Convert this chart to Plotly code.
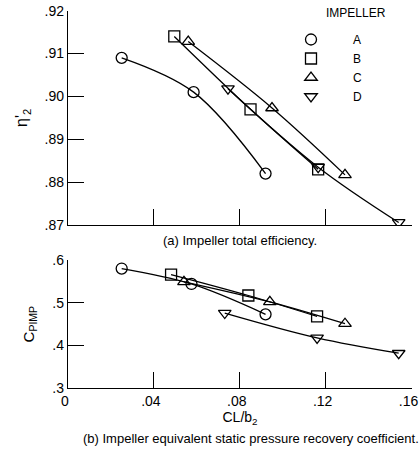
import plotly.graph_objects as go

# ---- data ----
impellers = ["A", "B", "C", "D"]
symbols = ["circle-open", "square-open", "triangle-up-open", "triangle-down-open"]

eff_x = {
    "A": [0.025, 0.0585, 0.092],
    "B": [0.0495, 0.085, 0.1165],
    "C": [0.056, 0.095, 0.129],
    "D": [0.0745, 0.1165, 0.154],
}
eff_y = {
    "A": [0.909, 0.901, 0.882],
    "B": [0.914, 0.897, 0.883],
    "C": [0.9128, 0.8973, 0.8817],
    "D": [0.9018, 0.8835, 0.8706],
}
cp_x = {
    "A": [0.025, 0.0575, 0.092],
    "B": [0.048, 0.084, 0.116],
    "C": [0.054, 0.094, 0.129],
    "D": [0.073, 0.116, 0.154],
}
cp_y = {
    "A": [0.58, 0.544, 0.473],
    "B": [0.566, 0.517, 0.468],
    "C": [0.549, 0.502, 0.451],
    "D": [0.476, 0.418, 0.382],
}

x_ticks = [0, 0.04, 0.08, 0.12, 0.16]
x_ticktext = ["0", ".04", ".08", ".12", ".16"]
eff_ticks = [0.87, 0.88, 0.89, 0.90, 0.91, 0.92]
eff_ticktext = [".87", ".88", ".89", ".90", ".91", ".92"]
cp_ticks = [0.3, 0.4, 0.5, 0.6]
cp_ticktext = [".3", ".4", ".5", ".6"]

FONT = "Liberation Sans"
W, H = 419, 455


def px(xp, yp):
    return xp / W, 1 - yp / H


fig = go.Figure()

mk = lambda sym: dict(symbol=sym, size=11, color="black", line=dict(width=1.3, color="black"))
ln = dict(color="black", width=1.3, shape="spline", smoothing=1.0)

for name, sym in zip(impellers, symbols):
    fig.add_trace(go.Scatter(x=eff_x[name], y=eff_y[name], mode="lines+markers", line=ln,
                             marker=mk(sym), xaxis="x", yaxis="y", showlegend=False, name=name))
    fig.add_trace(go.Scatter(x=cp_x[name], y=cp_y[name], mode="lines+markers", line=ln,
                             marker=mk(sym), xaxis="x2", yaxis="y2", showlegend=False, name=name))
    fig.add_trace(go.Scatter(x=[None], y=[None], mode="markers", marker=mk(sym),
                             xaxis="x", yaxis="y", showlegend=True, name=name))

axis_common = dict(
    showgrid=False, zeroline=False, showline=True, linecolor="black", linewidth=1.3,
    ticks="inside", ticklen=16, tickwidth=1.3, tickcolor="black",
    tickfont=dict(family=FONT, size=14, color="black"),
)

x0, _ = px(68, 0)
x1, _ = px(412, 0)
_, ya1 = px(0, 10.7)
_, ya0 = px(0, 225)
_, yb1 = px(0, 260)
_, yb0 = px(0, 388.3)

fig.update_layout(
    width=W, height=H,
    margin=dict(l=0, r=0, t=0, b=0, autoexpand=False),
    paper_bgcolor="white", plot_bgcolor="white",
    font=dict(family=FONT, size=14, color="black"),
    xaxis=dict(domain=[x0, x1], range=[0, 0.1602], tickvals=x_ticks,
               ticktext=x_ticktext, showticklabels=False, anchor="y", **axis_common),
    yaxis=dict(domain=[ya0, ya1], range=[0.87, 0.92], tickvals=eff_ticks,
               ticktext=eff_ticktext, anchor="x",
               title=dict(text="η'<sub>2</sub>", standoff=12, font=dict(family=FONT, size=16)),
               **axis_common),
    xaxis2=dict(domain=[x0, x1], range=[0, 0.1602], tickvals=x_ticks,
                ticktext=x_ticktext, anchor="y2", ticklabelshift=-3,
                ticklabeloverflow="allow",
                title=dict(text="CL/b<sub>2</sub>", standoff=2, font=dict(family=FONT, size=14)),
                **axis_common),
    yaxis2=dict(domain=[yb0, yb1], range=[0.3, 0.6], tickvals=cp_ticks,
                ticktext=cp_ticktext, anchor="x2",
                title=dict(text="C<sub>P</sub><sub>IMP</sub>", standoff=14, font=dict(family=FONT, size=15)),
                **axis_common),
    legend=dict(
        x=px(269, 0)[0], y=px(0, 25)[1], xanchor="left", yanchor="top",
        font=dict(family=FONT, size=12, color="black"),
        itemwidth=74, tracegroupgap=0, bgcolor="rgba(0,0,0,0)",
    ),
)

ann = []
x_, y_ = px(356, 13)
ann.append(dict(text="IMPELLER", x=x_, y=y_, xref="paper", yref="paper",
                xanchor="center", yanchor="middle",
                showarrow=False, font=dict(family=FONT, size=12, color="black")))
x_, y_ = px(240, 240)
ann.append(dict(text="(a) Impeller total efficiency.", x=x_, y=y_, xref="paper", yref="paper",
                xanchor="center", yanchor="middle",
                showarrow=False, font=dict(family=FONT, size=13, color="black")))
x_, y_ = px(251, 438)
ann.append(dict(text="(b) Impeller equivalent static pressure recovery coefficient.", x=x_, y=y_,
                xref="paper", yref="paper", showarrow=False,
                xanchor="center", yanchor="middle",
                font=dict(family=FONT, size=13, color="black")))
fig.update_layout(annotations=ann)

fig.write_html("out.html")
